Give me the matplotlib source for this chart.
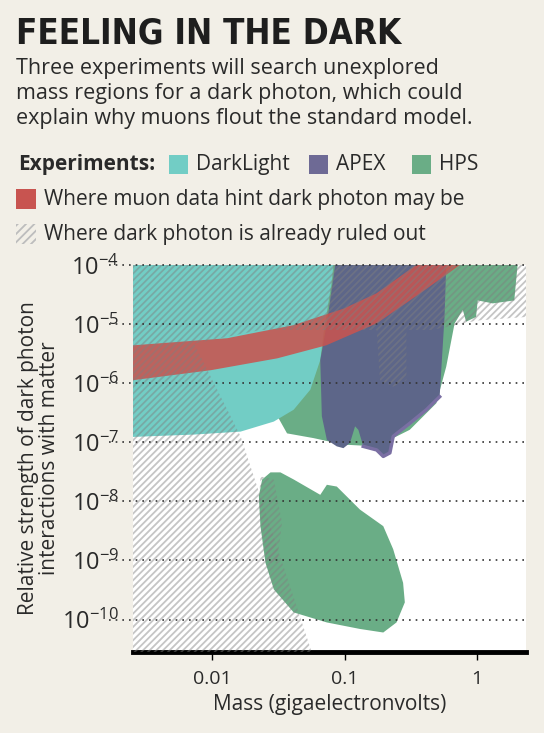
import numpy as np
import matplotlib
matplotlib.use("Agg")
import matplotlib.pyplot as plt
from matplotlib.patches import Polygon, Rectangle

# Shapes as (log10 mass in GeV, log10 coupling) pairs
darklight = [(-2.6, -4.0), (-1.085, -4.0), (-1.10, -4.31), (-1.16, -5.16), (-1.185, -5.61),
             (-1.26, -6.11), (-1.386, -6.45), (-1.536, -6.65), (-1.787, -6.82), (-2.138, -6.87),
             (-2.6, -6.91)]
apex = [(-1.073, -4.0), (-0.233, -4.0), (-0.246, -4.88), (-0.283, -6.23), (-0.383, -6.45),
        (-0.509, -6.68), (-0.634, -6.90), (-0.659, -7.18), (-0.709, -7.24), (-0.759, -7.13),
        (-0.86, -7.07), (-0.897, -6.79), (-0.922, -6.73), (-0.96, -7.01), (-1.01, -7.10),
        (-1.06, -7.07), (-1.135, -6.96), (-1.173, -6.56), (-1.185, -5.61), (-1.135, -4.99)]
apex_rim = [(-0.283, -6.23), (-0.383, -6.45), (-0.509, -6.68), (-0.634, -6.90), (-0.659, -7.18),
            (-0.709, -7.24), (-0.759, -7.13), (-0.86, -7.07)]
hps_upper = [(-1.536, -6.45), (-1.436, -6.85), (-1.236, -6.93), (-1.01, -7.04), (-0.759, -7.07),
             (-0.509, -6.79), (-0.308, -6.34), (-0.233, -5.72), (-0.17, -4.99), (-0.108, -4.76),
             (-0.083, -4.96), (-0.008, -4.88), (0.005, -4.6), (0.118, -4.65), (0.281, -4.6),
             (0.306, -4.0), (-1.536, -4.0)]
hps_lower = [(-1.561, -7.51), (-1.486, -7.51), (-1.386, -7.63), (-1.185, -7.89), (-1.135, -7.72),
             (-1.06, -7.75), (-0.885, -8.14), (-0.709, -8.42), (-0.634, -8.81), (-0.559, -9.38),
             (-0.546, -9.71), (-0.609, -10.05), (-0.709, -10.22), (-0.885, -10.16), (-1.135, -10.05),
             (-1.386, -9.88), (-1.536, -9.49), (-1.599, -9.04), (-1.637, -8.42), (-1.649, -7.91),
             (-1.624, -7.63)]
muon_upper = [(-2.6, -5.36), (-1.89, -5.24), (-1.39, -5.02), (-1.01, -4.74), (-0.76, -4.48), (-0.46, -4.0)]
muon_lower = [(-2.6, -5.95), (-2.01, -5.78), (-1.51, -5.58), (-1.14, -5.36), (-0.76, -4.99),
              (-0.43, -4.48), (-0.13, -4.0)]
ruled_out = [(-2.6, -4.0), (0.37, -4.0), (0.37, -4.88), (0.0, -4.94), (-0.34, -5.1),
             (-1.09, -5.1), (-1.637, -5.1), (-2.138, -5.33), (-1.787, -6.90), (-1.25, -10.55),
             (-2.6, -10.55)]
ruled_apex = [(-0.759, -5.1), (-0.534, -5.1), (-0.534, -5.95), (-0.634, -6.06), (-0.734, -5.95)]
ruled_hps = [(-1.637, -7.58), (-1.536, -7.63), (-1.474, -8.36), (-1.511, -9.04), (-1.586, -9.04),
             (-1.649, -8.03)]

x_ticks = [0.01, 0.1, 1]
x_tick_labels = ["0.01", "0.1", "1"]
y_decades = [-4, -5, -6, -7, -8, -9, -10]

BG = "#f2efe7"
CYAN = "#72cdc5"
APEX_C = "#5d6689"
HPS_C = "#6aad86"
RED = "#c85450"
TXT = "#2a2a2a"

plt.rcParams["font.family"] = ["Open Sans", "DejaVu Sans"]
plt.rcParams["hatch.linewidth"] = 1.3

fig = plt.figure(figsize=(5.44, 7.33), dpi=100, facecolor=BG)
ax = fig.add_axes([0.2445, 0.1105, 0.7225, 0.528])
ax.set_xscale("log")
ax.set_yscale("log")
ax.set_xlim(10 ** -2.6, 10 ** 0.37)
ax.set_ylim(10 ** -10.55, 1e-4)


def to_xy(pts):
    return [(10 ** a, 10 ** b) for a, b in pts]


ax.add_patch(Polygon(to_xy(hps_upper), closed=True, fc=HPS_C, ec="none", zorder=2))
ax.add_patch(Polygon(to_xy(hps_lower), closed=True, fc=HPS_C, ec="none", zorder=2))
ax.add_patch(Polygon(to_xy(darklight), closed=True, fc=CYAN, ec="none", zorder=3))
ax.add_patch(Polygon(to_xy(apex), closed=True, fc=APEX_C, ec="none", zorder=3))
rim = np.array(to_xy(apex_rim))
ax.plot(rim[:, 0], rim[:, 1], color="#7a6fa3", lw=2.5, zorder=3)
band = to_xy(muon_upper) + to_xy(muon_lower)[::-1]
ax.add_patch(Polygon(band, closed=True, fc=RED, ec="none", alpha=0.88, zorder=4))

for pts in (ruled_out, ruled_apex, ruled_hps):
    ax.add_patch(Polygon(to_xy(pts), closed=True, fc="none", ec="#7f7f7f", alpha=0.45,
                         hatch="/////", lw=0, zorder=5))

# dotted decade gridlines running into the label area
for d in y_decades:
    ax.plot([10 ** -2.78, 10 ** 0.37], [10 ** d, 10 ** d], ls=(0, (1, 3)), color="#333333",
            lw=1.2, clip_on=False, zorder=6)

for s in ["top", "right", "left"]:
    ax.spines[s].set_visible(False)
ax.spines["bottom"].set_linewidth(3.5)
ax.set_xticks(x_ticks)
ax.set_xticklabels(x_tick_labels, fontsize=14, color=TXT)
ax.minorticks_off()
ax.tick_params(axis="x", length=6, width=1, pad=7)
ax.set_yticks([10.0 ** d for d in y_decades])
ax.set_yticklabels([rf"$\mathregular{{10^{{{d}}}}}$".replace("-", "\u2212") for d in y_decades],
                   fontsize=17, color=TXT)
ax.tick_params(axis="y", length=0, pad=10)
ax.set_xlabel("Mass (gigaelectronvolts)", fontsize=15, color=TXT, labelpad=4)
ax.set_ylabel("Relative strength of dark photon\ninteractions with matter", fontsize=15,
              color=TXT, labelpad=2, linespacing=1.0)

# header
fig.text(0.029, 0.941, "FEELING IN THE DARK", fontsize=25, fontweight="bold",
         family="DejaVu Sans", fontstretch="condensed", color="#1e1e1e")
fig.text(0.029, 1 - 58 / 733, "Three experiments will search unexplored\nmass regions for a dark photon, which could\n"
         "explain why muons flout the standard model.", fontsize=15.5, color=TXT, linespacing=1.25,
         va="top")

row1 = 1 - 170 / 733
fig.text(18 / 544, row1, "Experiments:", fontsize=15, fontweight="bold", color=TXT)
for x0, col, lab in [(169, CYAN, "DarkLight"), (309, "#6e6a95", "APEX"), (412, HPS_C, "HPS")]:
    fig.patches.append(Rectangle((x0 / 544, row1 - 4 / 733), 19 / 544, 19 / 733,
                                 transform=fig.transFigure, fc=col, ec="none"))
    fig.text((x0 + 27) / 544, row1, lab, fontsize=15, color=TXT)
row2 = 1 - 205 / 733
fig.patches.append(Rectangle((16 / 544, row2 - 4 / 733), 20 / 544, 20 / 733,
                             transform=fig.transFigure, fc=RED, ec="none"))
fig.text(44 / 544, row2, "Where muon data hint dark photon may be", fontsize=15, color=TXT)
row3 = 1 - 240 / 733
fig.patches.append(Rectangle((16 / 544, row3 - 4 / 733), 20 / 544, 20 / 733,
                             transform=fig.transFigure, fc="none", ec="#bdbdbd", lw=0, hatch="////"))
fig.text(44 / 544, row3, "Where dark photon is already ruled out", fontsize=15, color=TXT)

fig.savefig("out.png", dpi=100, facecolor=BG)
